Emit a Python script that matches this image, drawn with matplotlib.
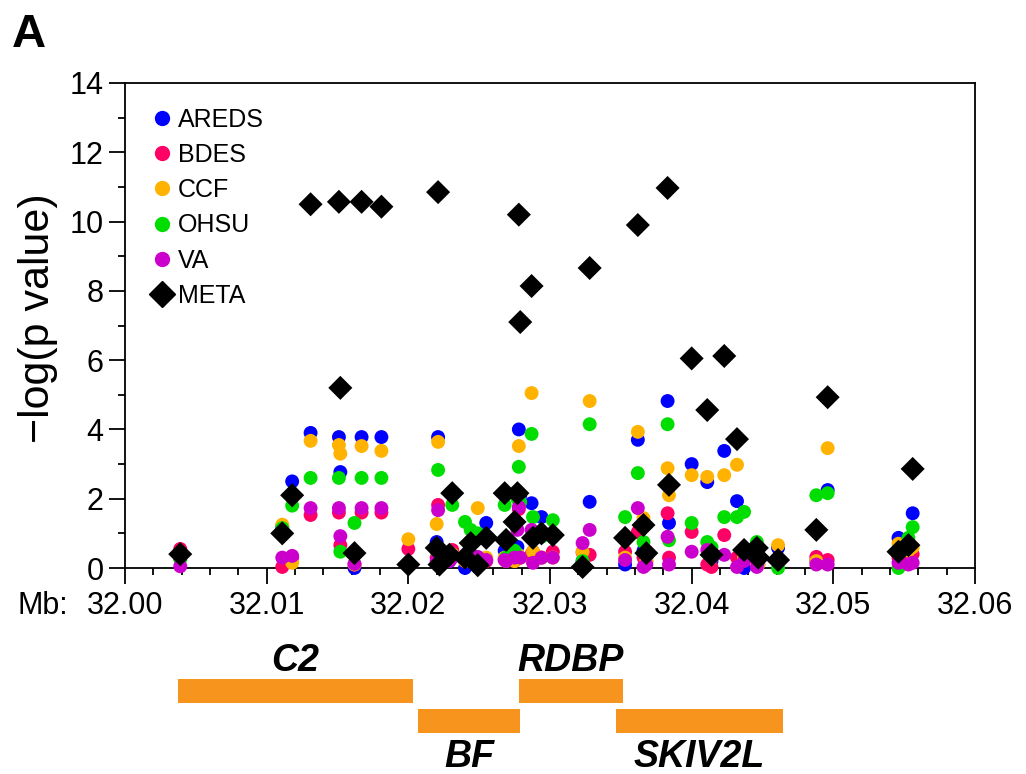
import matplotlib
matplotlib.use("Agg")
import numpy as np
import matplotlib.pyplot as plt
from matplotlib.lines import Line2D

# SNP positions (Mb) and -log(p) per cohort
positions = [32.0039, 32.0111, 32.0118, 32.0131, 32.0151, 32.0152, 32.0162, 32.0167,
             32.0181, 32.0200, 32.0221, 32.0220, 32.0222, 32.0231, 32.0229, 32.0240,
             32.0244, 32.0249, 32.0255, 32.0268, 32.0269, 32.0278, 32.0279, 32.0277,
             32.0275, 32.0287, 32.0288, 32.0294, 32.0302, 32.0323, 32.0328, 32.0353,
             32.0362, 32.0366, 32.0368, 32.0383, 32.0384, 32.0400, 32.0411, 32.0414,
             32.0423, 32.0432, 32.0437, 32.0446, 32.0447, 32.0461, 32.0488, 32.0496,
             32.0546, 32.0556, 32.0553]

areds = [0.3, 1.2, 2.5, 3.9, 3.78, 2.77, 0.0, 3.78, 3.78, 0.1, 3.78, 0.75, 0.1, 0.3, 0.2, 0.0,
         0.4, 0.2, 1.3, 0.5, 0.3, 4.0, 2.1, 0.61, 0.61, 1.87, 1.0, 1.47, 0.9, 0.2, 1.91, 0.1,
         3.7, 0.5, 0.3, 4.82, 1.3, 3.0, 2.48, 0.2, 3.38, 1.93, 0.0, 0.3, 0.1, 0.58, 0.2, 2.25,
         0.87, 1.58, 0.4]
bdes = [0.55, 0.03, 0.3, 1.53, 1.6, 0.66, 0.1, 1.6, 1.6, 0.55, 1.82, 0.3, 0.4, 0.52, 0.3, 0.2,
        0.3, 0.3, 0.2, 0.25, 0.3, 1.7, 0.3, 0.3, 0.2, 0.4, 0.47, 0.3, 0.47, 0.45, 0.38, 0.47,
        1.04, 0.3, 0.2, 1.58, 0.3, 1.04, 0.1, 0.03, 0.95, 0.3, 0.3, 0.2, 0.1, 0.2, 0.32, 0.23,
        0.3, 0.4, 0.3]
ccf = [0.3, 1.25, 0.15, 3.67, 3.55, 3.3, 0.1, 3.52, 3.38, 0.83, 3.64, 1.27, 0.4, 0.4, 0.3, 0.2,
       0.3, 1.73, 0.3, 0.3, 0.2, 3.52, 0.3, 0.4, 0.2, 5.05, 0.47, 0.3, 0.3, 0.47, 4.82, 0.3,
       3.93, 1.44, 0.2, 2.88, 2.1, 2.68, 2.63, 0.3, 2.68, 2.98, 0.3, 0.2, 0.1, 0.66, 0.2, 3.46,
       0.7, 0.6, 0.5]
ohsu = [0.25, 1.15, 1.8, 2.6, 2.6, 0.47, 1.3, 2.6, 2.6, 0.1, 2.83, 0.5, 0.2, 1.82, 0.3, 1.33,
        1.1, 1.0, 0.9, 1.82, 0.3, 2.92, 1.9, 2.0, 0.5, 3.87, 1.47, 0.9, 1.38, 0.2, 4.15, 1.47,
        2.74, 0.75, 0.4, 4.15, 0.8, 1.3, 0.75, 0.6, 1.47, 1.47, 1.62, 0.75, 0.4, 0.0, 2.1, 2.16,
        0.0, 1.18, 0.87]
va = [0.05, 0.3, 0.35, 1.73, 1.73, 0.92, 0.12, 1.73, 1.73, 0.1, 1.67, 0.2, 0.3, 0.3, 0.2, 0.3,
      0.25, 0.32, 0.23, 0.23, 0.2, 1.76, 0.3, 1.1, 0.3, 1.1, 0.15, 0.3, 0.3, 0.72, 1.1, 0.23,
      1.73, 0.03, 0.1, 0.9, 0.1, 0.47, 0.52, 0.3, 0.38, 0.03, 0.2, 0.03, 0.2, 0.2, 0.1, 0.1,
      0.15, 0.15, 0.1]
meta = [0.4, 1.0, 2.1, 10.5, 10.57, 5.2, 0.43, 10.57, 10.43, 0.1, 10.85, 0.58, 0.1, 2.16, 0.38,
        0.3, 0.72, 0.08, 0.87, 2.16, 0.81, 10.2, 7.1, 2.16, 1.33, 8.14, 0.87, 1.0, 0.95, 0.03,
        8.66, 0.87, 9.9, 1.24, 0.43, 10.97, 2.4, 6.05, 4.56, 0.38, 6.12, 3.72, 0.52, 0.58, 0.3,
        0.23, 1.1, 4.93, 0.47, 2.86, 0.66]

cohort_names = ["AREDS", "BDES", "CCF", "OHSU", "VA"]
cohort_colors = ["#0000ff", "#ff0066", "#ffb300", "#00dd00", "#cc00cc"]

# genes: name, start, end, row
gene_names = ["C2", "BF", "RDBP", "SKIV2L"]
gene_starts = [32.00374, 32.02068, 32.02781, 32.03466]
gene_ends = [32.02033, 32.02788, 32.03515, 32.04645]
gene_rows = [0, 1, 0, 1]

plt.rcParams['font.family'] = ['Liberation Sans', 'DejaVu Sans']


def plot_association(ax):
    series = [areds, bdes, ccf, ohsu, va]
    for vals, col in zip(series, cohort_colors):
        ax.scatter(positions, vals, s=100, color=col, edgecolors='none',
                   clip_on=False, zorder=3)
    ax.scatter(positions, meta, s=150, marker='D', color='black', edgecolors='none',
               clip_on=False, zorder=4)

    ax.set_xlim(32.00, 32.06)
    ax.set_ylim(0, 14)
    ax.set_xticks(np.arange(32.00, 32.061, 0.01))
    ax.set_xticklabels(["%.2f" % v for v in np.arange(32.00, 32.061, 0.01)])
    ax.set_xticks(np.arange(32.00, 32.061, 0.002), minor=True)
    ax.set_yticks(range(0, 15, 2))
    ax.set_yticks(range(1, 15, 2), minor=True)
    ax.tick_params(which='major', length=11.5, width=1.3, labelsize=22, pad=5)
    ax.tick_params(axis='y', which='major', pad=4)
    ax.tick_params(which='minor', length=5, width=1.3)
    for sp in ax.spines.values():
        sp.set_linewidth(1.3)

    handles = []
    for name, col in zip(cohort_names, cohort_colors):
        handles.append(Line2D([], [], marker='o', linestyle='none', color=col,
                              markersize=10, label=name))
    handles.append(Line2D([], [], marker='D', linestyle='none', color='black',
                          markersize=13, label='META'))
    ax.legend(handles=handles, loc='upper left', bbox_to_anchor=(0.018, 0.975),
              frameon=False, fontsize=18, handlelength=0.7, handletextpad=0.3,
              labelspacing=0.45, borderpad=0)


def plot_genes(ax):
    for name, start, end, row in zip(gene_names, gene_starts, gene_ends, gene_rows):
        ax.barh(row, end - start, left=start, height=0.8, color='#f7941d')
        mid = (start + end) / 2
        if row == 0:
            ax.text(mid, row - 0.65, name, ha='center', va='baseline', fontsize=27,
                    fontweight='bold', fontstyle='italic')
        else:
            ax.text(mid, row + 1.55, name, ha='center', va='baseline', fontsize=27,
                    fontweight='bold', fontstyle='italic')
    ax.set_xlim(32.00, 32.06)
    ax.set_ylim(2.783, -2.017)
    ax.axis('off')


def main():
    fig = plt.figure(figsize=(10.26, 7.74), dpi=100)
    ax = fig.add_axes([125 / 1026, 1 - 568 / 774, 850 / 1026, 485 / 774])
    plot_association(ax)

    ax2 = fig.add_axes([125 / 1026, 0, 850 / 1026, 144 / 774])
    plot_genes(ax2)

    fig.text(38 / 1026, 1 - 318 / 774, u"\u2212log(p value)", rotation=90,
             ha='center', va='center', fontsize=31)
    fig.text(68 / 1026, 1 - 606 / 774, "Mb:", ha='right', va='center', fontsize=22)
    fig.text(12 / 1026, 1 - 35 / 774, "A", ha='left', va='center', fontsize=34,
             fontweight='bold')

    fig.savefig("out.png", dpi=100)


if __name__ == '__main__':
    main()
